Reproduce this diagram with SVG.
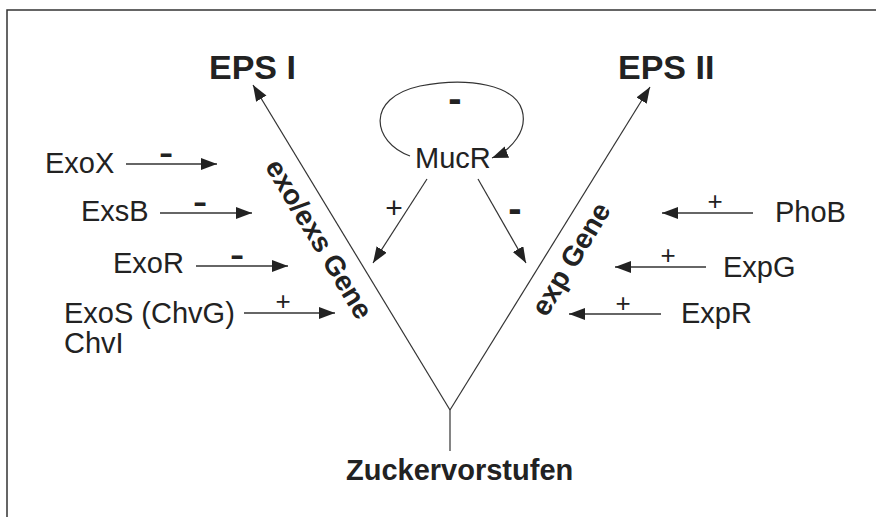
<svg xmlns="http://www.w3.org/2000/svg" width="876" height="517" viewBox="0 0 876 517">
<defs>
<style>
.lbl{font-family:"Liberation Sans",Arial,sans-serif;font-size:29px;fill:#222}
.bold{font-family:"Liberation Sans",Arial,sans-serif;font-weight:bold;fill:#222}
.plus{font-family:"Liberation Sans",Arial,sans-serif;font-size:26px;fill:#222;text-anchor:middle}
.minus{font-family:"Liberation Sans",Arial,sans-serif;font-size:44px;fill:#222;text-anchor:middle}
.bminus{font-family:"Liberation Sans",Arial,sans-serif;font-weight:bold;font-size:40px;fill:#222;text-anchor:middle}
.ln{stroke:#333;stroke-width:1.2;fill:none}
.harr{stroke:#666;stroke-width:2;fill:none;marker-end:url(#ah)}
.darr{stroke:#333;stroke-width:1.2;fill:none;marker-end:url(#ah)}
</style>
<marker id="ah" markerUnits="userSpaceOnUse" markerWidth="18" markerHeight="14" refX="16" refY="6" orient="auto">
<path d="M0,0 L16,6 L0,12 z" fill="#222"/>
</marker>
</defs>
<rect x="0" y="0" width="876" height="517" fill="#fff"/>
<path d="M7,517 V10 H876" fill="none" stroke="#333" stroke-width="1.5"/>

<g id="connectors">
<line class="darr" x1="450" y1="410" x2="253" y2="85"/>
<line class="darr" x1="450" y1="410" x2="650" y2="87"/>
<line class="ln" x1="450" y1="410" x2="450" y2="451"/>
<path class="darr" d="M410,156 C372,142 365,98 420,86 C470,76 515,86 522,110 C528,130 512,150 492,158"/>
<line class="darr" x1="427" y1="179" x2="373" y2="263"/>
<line class="darr" x1="478" y1="179" x2="526" y2="263"/>
<line class="harr" x1="126" y1="164" x2="217" y2="164"/>
<line class="harr" x1="160" y1="213" x2="252" y2="213"/>
<line class="harr" x1="196" y1="266" x2="288" y2="266"/>
<line class="harr" x1="244" y1="313" x2="335" y2="313"/>
<line class="harr" x1="753" y1="213" x2="662" y2="213"/>
<line class="harr" x1="706" y1="267" x2="615" y2="267"/>
<line class="harr" x1="661" y1="314" x2="569" y2="314"/>
<text class="minus" x="166" y="167">-</text>
<text class="minus" x="200" y="216">-</text>
<text class="minus" x="237" y="269">-</text>
<text class="plus" x="283" y="310">+</text>
<text class="plus" x="715" y="210">+</text>
<text class="plus" x="668" y="264">+</text>
<text class="plus" x="623" y="312">+</text>
<text class="plus" x="394" y="218" style="font-size:30px">+</text>
<text class="bminus" x="515" y="222">-</text>
<text class="bminus" x="455" y="112">-</text>
</g>

<g id="eps1"><text class="bold" x="209" y="79" style="font-size:34px">EPS I</text></g>
<g id="eps2"><text class="bold" x="618" y="79" style="font-size:34px">EPS II</text></g>
<g id="zucker"><text class="bold" x="346" y="480" style="font-size:29px">Zuckervorstufen</text></g>
<g id="exoexs"><text class="bold" transform="translate(311,244) rotate(59)" text-anchor="middle" style="font-size:28px">exo/exs Gene</text></g>
<g id="exp"><text class="bold" transform="translate(579,264) rotate(-59)" text-anchor="middle" style="font-size:28px">exp Gene</text></g>
<g id="mucr"><text class="lbl" x="415" y="168">MucR</text></g>
<g id="exox"><text class="lbl" x="45" y="173">ExoX</text></g>
<g id="exsb"><text class="lbl" x="81" y="221">ExsB</text></g>
<g id="exor"><text class="lbl" x="113" y="273">ExoR</text></g>
<g id="exos"><text class="lbl" x="64" y="323">ExoS (ChvG)</text><text class="lbl" x="64" y="353">ChvI</text></g>
<g id="phob"><text class="lbl" x="775" y="222">PhoB</text></g>
<g id="expg"><text class="lbl" x="723" y="277">ExpG</text></g>
<g id="expr"><text class="lbl" x="681" y="323">ExpR</text></g>
</svg>
